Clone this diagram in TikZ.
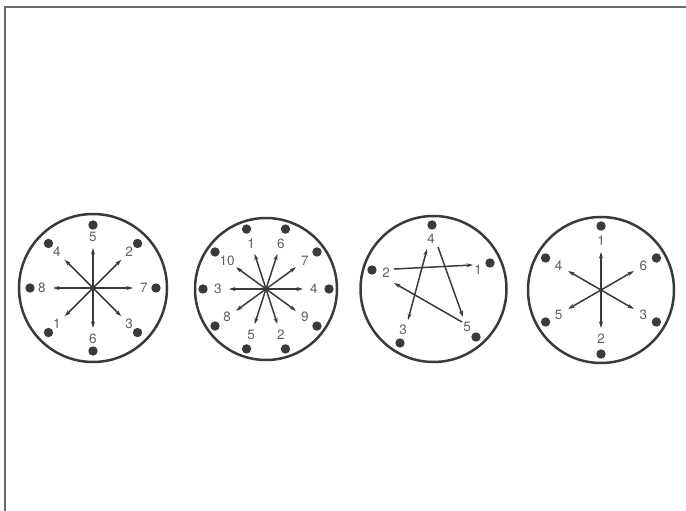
\documentclass[tikz,border=0pt]{standalone}
\usepackage{fontspec}
\setmainfont{TeX Gyre Heros}
\usetikzlibrary{arrows.meta,calc}
\definecolor{ink}{HTML}{3A3A3A}
\definecolor{lab}{HTML}{606060}
\definecolor{frame}{HTML}{6A6A6A}
\tikzset{
  rim/.style={draw=ink,line width=2.5pt},
  pin/.style={fill=ink,draw=none},
  arr/.style={draw=ink,line width=1.5pt,-{Stealth[length=6.5pt,width=4pt]}},
  darr/.style={draw=ink,line width=1.5pt,{Stealth[length=6.5pt,width=4pt]}-{Stealth[length=6.5pt,width=4pt]}},
  num/.style={text=lab,font=\fontsize{13.5}{13.5}\selectfont,inner sep=1pt}
}
\begin{document}
\begin{tikzpicture}[x=1pt,y=1pt]
\useasboundingbox (0,0) rectangle (686,511);
% frame
\draw[frame,line width=1.8pt] (5,0) -- (5,504) -- (686,504);

% ---------- circle 1 (8 cylinders)
\coordinate (c1) at (93,223);
\draw[rim] (c1) circle (74);
\foreach \k in {0,...,7}{\fill[pin] ($(c1)+(\k*45:63)$) circle (4.7);}
\foreach \a/\l in {90/5,45/2,0/7,-45/3,-90/6,-135/1,180/8,135/4}{
  \coordinate (c1e\l) at ($(c1)+(\a:40)$);
  \draw[arr] (c1) -- (c1e\l);
  \node[num] (c1n\l) at ($(c1)+(\a:51)$) {\l};
}

% ---------- circle 2 (10 cylinders)
\coordinate (c2) at (266,222);
\draw[rim] (c2) circle (71);
\foreach \k in {0,...,9}{\fill[pin] ($(c2)+(\k*36:63)$) circle (4.7);}
\foreach \a/\l in {0/4,36/7,72/6,108/1,144/10,180/3,216/8,252/5,288/2,324/9}{
  \coordinate (c2e\l) at ($(c2)+(\a:37)$);
  \draw[arr] (c2) -- (c2e\l);
  \node[num] (c2n\l) at ($(c2)+(\a:48)$) {\l};
}

% ---------- circle 3 (5 cylinders)
\coordinate (c3) at (433.5,222);
\draw[rim] (c3) circle (73);
\foreach \p in {(432,286),(490,248),(372,241),(400,168),(476,174)}{\fill[pin] \p circle (4.7);}
\node[num] (c3n4) at (431,272) {4};
\node[num] (c3n1) at (478,241) {1};
\node[num] (c3n2) at (386,238) {2};
\node[num] (c3n3) at (403,181) {3};
\node[num] (c3n5) at (467,184) {5};
\coordinate (a2s) at (394,242);
\coordinate (a1e) at (473,246);
\coordinate (a3e) at (408,191);
\coordinate (a4e) at (427,262);
\coordinate (a4s) at (438,264);
\coordinate (a5e) at (463,194);
\coordinate (a5s) at (462,189);
\coordinate (a2e) at (394,228);
\draw[arr] (a2s) -- (a1e);
\draw[darr] (a3e) -- (a4e);
\draw[arr] (a4s) -- (a5e);
\draw[arr] (a5s) -- (a2e);

% ---------- circle 4 (6 cylinders)
\coordinate (c4) at (601,221);
\draw[rim] (c4) circle (73);
\foreach \k in {0,...,5}{\fill[pin] ($(c4)+(90+\k*60:64)$) circle (4.7);}
\foreach \a/\l in {90/1,30/6,-30/3,-90/2,-150/5,150/4}{
  \coordinate (c4e\l) at ($(c4)+(\a:38)$);
  \draw[arr] (c4) -- (c4e\l);
  \node[num] (c4n\l) at ($(c4)+(\a:49)$) {\l};
}
\end{tikzpicture}
\end{document}
